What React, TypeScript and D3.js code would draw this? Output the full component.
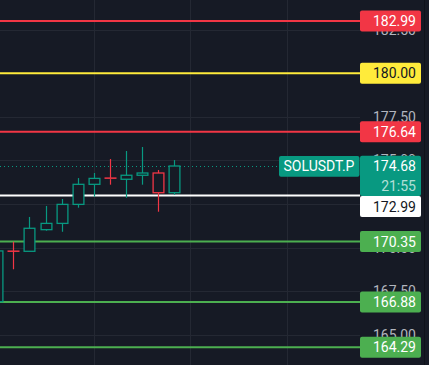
import React from "react";
import * as d3 from "d3";

const W = 429;
const H = 365;

// OHLC candles (oldest first)
const opens = [166.9, 169.81, 169.79, 171.03, 171.39, 172.48, 173.63, 174.0, 173.92, 174.15, 174.28, 173.15];
const highs = [169.85, 170.34, 171.76, 172.39, 172.79, 173.99, 174.28, 175.08, 175.54, 175.77, 174.45, 175.02];
const lows = [166.85, 168.76, 169.77, 170.97, 170.91, 172.29, 172.92, 173.61, 172.86, 173.61, 172.06, 173.03];
const closes = [169.81, 169.79, 171.11, 171.39, 172.48, 173.63, 173.97, 173.93, 174.15, 174.28, 173.15, 174.68];

// horizontal alert / level lines
const levelValues = [182.99, 180.0, 176.64, 172.99, 170.35, 166.88, 164.29];
const levelKinds = ["red", "yellow", "red", "white", "green", "green", "green"];

const tickValues = [165.0, 167.5, 170.0, 172.5, 175.0, 177.5, 180.0, 182.5];
const timeGridIdx = [6, 12, 18];

const symbol = "SOLUSDT.P";
const lastPrice = 174.68;
const countdown = "21:55";

const BG = "#161a25";
const GRID = "#242833";
const UP = "#089981";
const DOWN = "#f23645";
const kindFill: Record<string, string> = {
  red: "#f23645",
  yellow: "#ffeb3b",
  white: "#ffffff",
  green: "#4caf50",
};
const kindText: Record<string, string> = {
  red: "#ffffff",
  yellow: "#131722",
  white: "#131722",
  green: "#ffffff",
};

const PLOT_R = 360;
const FONT = "Roboto, 'Liberation Sans', sans-serif";

export default function App() {
  const y = d3.scaleLinear().domain([163.27, 184.2]).range([H, 0]);
  const x = d3.scaleLinear().domain([0, 1]).range([-2.8, 13.3]);
  const bodyW = 12;
  const snap = (v: number) => Math.round(v) + 0.5;

  const yLast = y(lastPrice);
  const curTop = yLast - 10.3;
  const curBot = yLast + 30;

  // label positions with collision avoidance against current price box
  const labels = levelValues.map((v, i) => {
    let cy = y(v);
    const half = 10.5;
    if (cy + half > curTop && cy - half < curBot) {
      cy = cy > yLast ? curBot + half : curTop - half;
    }
    return { v, kind: levelKinds[i], cy };
  });

  return (
    <svg
      width={W}
      height={H}
      style={{ position: "absolute", left: 0, top: 0, display: "block" }}
      fontFamily={FONT}
    >
      <rect x={0} y={0} width={W} height={H} fill={BG} />
      {/* grid */}
      {tickValues.map((t) => (
        <line key={"h" + t} x1={0} x2={PLOT_R} y1={snap(y(t))} y2={snap(y(t))} stroke={GRID} strokeWidth={1} />
      ))}
      {timeGridIdx.map((i) => (
        <line key={"v" + i} x1={snap(x(i))} x2={snap(x(i))} y1={0} y2={H} stroke={GRID} strokeWidth={1} />
      ))}
      {/* axis tick labels */}
      {tickValues.map((t) => (
        <text
          key={"t" + t}
          x={416}
          y={y(t)}
          dy="0.36em"
          textAnchor="end"
          fontSize={14}
          fill="#b2b5be"
        >
          {t.toFixed(2)}
        </text>
      ))}
      {/* level lines */}
      {levelValues.map((v, i) => (
        <line
          key={"l" + v}
          x1={0}
          x2={PLOT_R}
          y1={y(v)}
          y2={y(v)}
          stroke={kindFill[levelKinds[i]]}
          strokeWidth={2}
        />
      ))}
      {/* last price dotted line */}
      <line
        x1={0}
        x2={279}
        y1={snap(yLast)}
        y2={snap(yLast)}
        stroke={UP}
        strokeWidth={1}
        strokeDasharray="1 3"
      />
      {/* candles */}
      {opens.map((o, i) => {
        const c = closes[i];
        const col = c >= o ? UP : DOWN;
        const cx = snap(x(i));
        const top = y(Math.max(o, c));
        const bot = y(Math.min(o, c));
        const h = Math.max(bot - top, 0.01);
        return (
          <g key={"c" + i}>
            <line x1={cx} x2={cx} y1={y(highs[i])} y2={top} stroke={col} strokeWidth={1.2} />
            <line x1={cx} x2={cx} y1={bot} y2={y(lows[i])} stroke={col} strokeWidth={1.2} />
            {h < 2 ? (
              <rect x={cx - bodyW / 2} y={top - 0.5} width={bodyW} height={Math.max(h, 1.5)} fill={col} />
            ) : (
              <rect
                x={cx - bodyW / 2 + 0.6}
                y={top}
                width={bodyW - 1.2}
                height={h}
                fill={BG}
                stroke={col}
                strokeWidth={1.3}
              />
            )}
          </g>
        );
      })}
      {/* level labels */}
      {labels.map((l) => (
        <g key={"lb" + l.v}>
          <rect x={360} y={l.cy - 10.5} width={61} height={21} rx={2} fill={kindFill[l.kind]} />
          <text
            x={416}
            y={l.cy}
            dy="0.36em"
            textAnchor="end"
            fontSize={14}
            fill={kindText[l.kind]}
          >
            {l.v.toFixed(2)}
          </text>
        </g>
      ))}
      {/* current price label */}
      <rect x={360} y={curTop} width={61} height={curBot - curTop} rx={2} fill={UP} />
      <text x={416} y={yLast} dy="0.36em" textAnchor="end" fontSize={14} fill="#ffffff">
        {lastPrice.toFixed(2)}
      </text>
      <text x={416} y={yLast + 19.5} dy="0.36em" textAnchor="end" fontSize={14} fill="rgba(255,255,255,0.7)">
        {countdown}
      </text>
      {/* symbol label */}
      <rect x={279} y={yLast - 10} width={80.5} height={20.7} rx={2} fill={UP} />
      <text x={319} y={yLast + 0.3} dy="0.36em" textAnchor="middle" fontSize={14} fill="#ffffff">
        {symbol}
      </text>
      {/* right border */}
      <line x1={424.5} x2={424.5} y1={0} y2={H} stroke="#0f121a" strokeWidth={1} />
    </svg>
  );
}
